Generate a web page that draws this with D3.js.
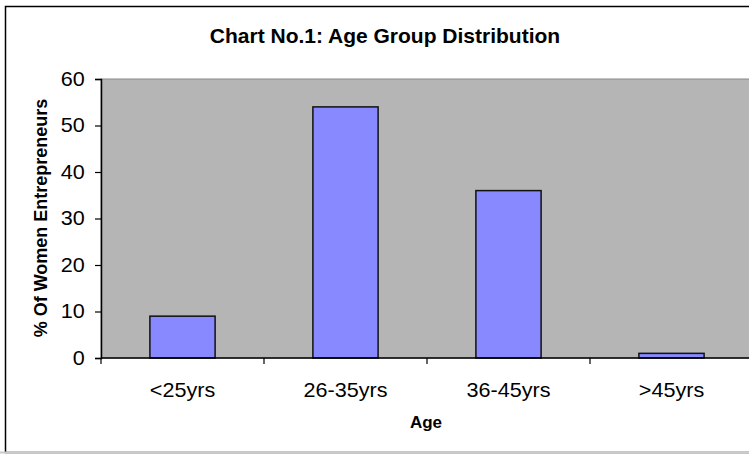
<!DOCTYPE html>
<html>
<head>
<meta charset="utf-8">
<script src="https://cdn.jsdelivr.net/npm/d3@7"></script>
<style>
  html, body { margin: 0; padding: 0; background: #fff; }
  svg { display: block; font-family: "Liberation Sans", Arial, sans-serif; }
</style>
</head>
<body>
<svg id="chart" width="749" height="454"></svg>
<script>
// Age group distribution of women entrepreneurs (percent)
const categories = ["<25yrs", "26-35yrs", "36-45yrs", ">45yrs"];
const percentValues = [9, 54, 36, 1];
const yTicks = [0, 10, 20, 30, 40, 50, 60];

const svg = d3.select("#chart");
const W = 749, H = 454;
const labelStretch = 1.08;

// outer chart frame
svg.append("rect")
  .attr("x", 5.5).attr("y", 6.5)
  .attr("width", 760).attr("height", 446)
  .attr("fill", "#fff")
  .attr("stroke", "#000").attr("stroke-width", 1.5);
svg.append("line")
  .attr("x1", 0).attr("x2", W).attr("y1", 452.5).attr("y2", 452.5)
  .attr("stroke", "#ccc").attr("stroke-width", 2);

const plot = { left: 101, top: 79, right: 753, bottom: 358 };

const x = d3.scaleBand()
  .domain(categories)
  .range([plot.left, plot.right])
  .paddingInner(0.6)
  .paddingOuter(0.3);

const y = d3.scaleLinear()
  .domain([0, 60])
  .range([plot.bottom, plot.top]);

// plot area
svg.append("rect")
  .attr("x", plot.left).attr("y", plot.top)
  .attr("width", plot.right - plot.left).attr("height", plot.bottom - plot.top)
  .attr("fill", "#b5b5b5")
  .attr("stroke", "#8a8a8a").attr("stroke-width", 1);

// bars
svg.append("g").selectAll("rect")
  .data(categories)
  .join("rect")
  .attr("x", d => x(d))
  .attr("y", (d, i) => y(percentValues[i]))
  .attr("width", x.bandwidth())
  .attr("height", (d, i) => y(0) - y(percentValues[i]))
  .attr("fill", "#8888ff")
  .attr("stroke", "#111")
  .attr("stroke-width", 1.5);

// y axis
const yAxis = svg.append("g")
  .attr("transform", `translate(${plot.left},0)`)
  .call(d3.axisLeft(y).tickValues(yTicks).tickSize(6).tickPadding(9));
yAxis.select(".domain").attr("stroke", "#000").attr("stroke-width", 1.5);
yAxis.selectAll(".tick line").attr("stroke", "#000").attr("stroke-width", 1.2);
yAxis.selectAll("text")
  .attr("font-size", 20).attr("fill", "#000")
  .attr("font-family", "Liberation Sans, Arial, sans-serif")
  .attr("transform", `scale(${labelStretch},1)`);

// x axis: ticks sit on category boundaries
const xAxisG = svg.append("g").attr("transform", `translate(0,${plot.bottom})`);
xAxisG.append("line")
  .attr("x1", plot.left).attr("x2", W)
  .attr("stroke", "#000").attr("stroke-width", 1.5);
const boundaries = d3.range(categories.length)
  .map(i => plot.left + i * (plot.right - plot.left) / categories.length);
xAxisG.selectAll("line.tk")
  .data(boundaries)
  .join("line")
  .attr("class", "tk")
  .attr("x1", d => d).attr("x2", d => d)
  .attr("y1", 0).attr("y2", 6)
  .attr("stroke", "#000").attr("stroke-width", 1.2);
xAxisG.selectAll("text")
  .data(categories)
  .join("text")
  .attr("transform", d => `translate(${x(d) + x.bandwidth() / 2},39) scale(${labelStretch},1)`)
  .attr("text-anchor", "middle")
  .attr("font-size", 20)
  .text(d => d);

// title
svg.append("text")
  .attr("x", 385).attr("y", 43)
  .attr("text-anchor", "middle")
  .attr("font-size", 21).attr("font-weight", "bold")
  .text("Chart No.1: Age Group Distribution");

// axis titles
svg.append("text")
  .attr("transform", `translate(47,${(plot.top + plot.bottom) / 2 - 0.5}) rotate(-90)`)
  .attr("text-anchor", "middle")
  .attr("font-size", 18).attr("font-weight", "bold")
  .text("% Of Women Entrepreneurs");

svg.append("text")
  .attr("x", 426).attr("y", 428)
  .attr("text-anchor", "middle")
  .attr("font-size", 17).attr("font-weight", "bold")
  .text("Age");
</script>
</body>
</html>
